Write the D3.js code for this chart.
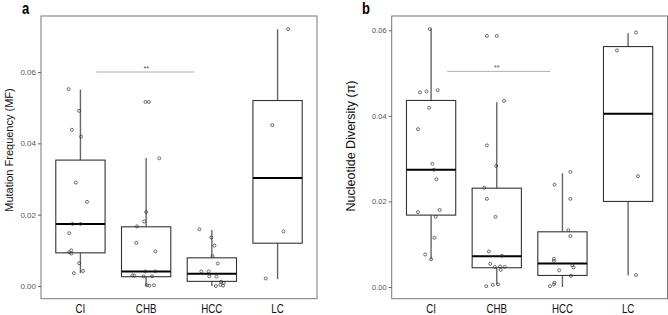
<!DOCTYPE html>
<html>
<head>
<meta charset="utf-8">
<script src="https://cdn.jsdelivr.net/npm/d3@7"></script>
<style>
  body { margin: 0; background: #fff; }
  svg { display: block; font-family: "Liberation Sans", Arial, sans-serif; }
</style>
</head>
<body>
<div id="chart"></div>
<script>
const groups = ["CI", "CHB", "HCC", "LC"];
const yTicks = [0, 0.02, 0.04, 0.06];

// ──── Panel a: mutation frequency ────
const mfLow  = [0.0036, 0.0000, 0.0000, 0.0019];
const mfQ1   = [0.0093, 0.0026, 0.0013, 0.0120];
const mfMed  = [0.0174, 0.0041, 0.0034, 0.0303];
const mfQ3   = [0.0353, 0.0166, 0.0079, 0.0520];
const mfHigh = [0.0551, 0.0359, 0.0157, 0.0720];

// [group, value, jitter (fraction of step)]
const mfPoints = [
  [0, 0.0552, -0.18], [0, 0.0491, -0.02], [0, 0.0438, -0.13], [0, 0.0419, 0.01],
  [0, 0.0290, -0.07], [0, 0.0236, 0.10], [0, 0.0174, -0.12], [0, 0.0174, 0.00],
  [0, 0.0148, -0.17], [0, 0.0100, -0.14], [0, 0.0095, -0.17], [0, 0.0091, -0.14],
  [0, 0.0064, -0.02], [0, 0.0042, 0.04], [0, 0.0036, -0.10],
  [1, 0.0516, -0.01], [1, 0.0516, 0.04], [1, 0.0358, 0.20], [1, 0.0207, 0.00],
  [1, 0.0181, -0.03], [1, 0.0167, -0.14], [1, 0.0121, -0.15], [1, 0.0097, 0.14],
  [1, 0.0041, -0.01], [1, 0.0041, 0.14], [1, 0.0030, -0.21], [1, 0.0029, -0.18],
  [1, 0.0027, -0.04], [1, 0.0027, 0.09], [1, 0.0002, 0.01], [1, 0.0001, 0.05],
  [1, 0.0002, 0.12],
  [2, 0.0159, -0.19], [2, 0.0136, -0.01], [2, 0.0113, 0.04], [2, 0.0084, 0.01],
  [2, 0.0063, 0.09], [2, 0.0041, -0.16], [2, 0.0041, -0.05], [2, 0.0027, -0.04],
  [2, 0.0026, 0.07], [2, 0.0012, 0.14], [2, 0.0008, 0.18], [2, 0.0003, 0.13],
  [2, 0.0001, 0.17], [2, 0.0000, 0.06],
  [3, 0.0720, 0.16], [3, 0.0451, -0.08], [3, 0.0153, 0.09], [3, 0.0021, -0.18]
];

// ──── Panel b: nucleotide diversity ────
const ndLow  = [0.0065, 0.0005, 0.0000, 0.0027];
const ndQ1   = [0.0168, 0.0045, 0.0027, 0.0200];
const ndMed  = [0.0274, 0.0072, 0.0055, 0.0405];
const ndQ3   = [0.0436, 0.0231, 0.0129, 0.0562];
const ndHigh = [0.0604, 0.0432, 0.0266, 0.0593];

const ndPoints = [
  [0, 0.0603, -0.02], [0, 0.0455, -0.17], [0, 0.0457, -0.07], [0, 0.0460, 0.10],
  [0, 0.0419, -0.03], [0, 0.0369, -0.20], [0, 0.0288, 0.02], [0, 0.0274, 0.04],
  [0, 0.0252, 0.08], [0, 0.0180, 0.13], [0, 0.0175, -0.20], [0, 0.0164, 0.07],
  [0, 0.0115, 0.05], [0, 0.0076, -0.09], [0, 0.0065, 0.00],
  [1, 0.0587, -0.15], [1, 0.0587, 0.00], [1, 0.0435, 0.11], [1, 0.0331, -0.15],
  [1, 0.0283, -0.01], [1, 0.0232, -0.19], [1, 0.0206, -0.15], [1, 0.0164, -0.02],
  [1, 0.0083, -0.12], [1, 0.0073, 0.08], [1, 0.0054, -0.10], [1, 0.0047, -0.03],
  [1, 0.0048, 0.05], [1, 0.0047, 0.12], [1, 0.0040, 0.06], [1, 0.0002, -0.16],
  [1, 0.0005, -0.06], [1, 0.0006, 0.02],
  [2, 0.0269, 0.12], [2, 0.0239, -0.12], [2, 0.0206, 0.12], [2, 0.0133, 0.09],
  [2, 0.0119, 0.12], [2, 0.0066, -0.13], [2, 0.0061, -0.13], [2, 0.0051, 0.15],
  [2, 0.0046, 0.17], [2, 0.0039, -0.05], [2, 0.0026, 0.13], [2, 0.0002, -0.19],
  [2, 0.0006, -0.13], [2, 0.0010, -0.12],
  [3, 0.0595, 0.12], [3, 0.0553, -0.17], [3, 0.0259, 0.15], [3, 0.0028, 0.12]
];

// significance brackets: from/to in group index units
const mfSig = { from: 0.24, to: 1.73, value: 0.060, star: 1.0, label: "**" };
const ndSig = { from: 0.245, to: 1.815, value: 0.0504, star: 1.0, label: "**" };

const W = 668, H = 315;
const svg = d3.select("#chart").append("svg")
  .attr("width", W).attr("height", H);

function drawPanel(p) {
  const g = svg.append("g");

  const x = d3.scalePoint().domain(groups)
    .range([p.left, p.right]).padding(0.6);
  const y = d3.scaleLinear().domain([0, 0.06]).range([p.y0, p.y60]);
  const step = x.step();
  const bw = step * 0.75;
  const xi = t => x(groups[0]) + t * step;

  // panel border
  g.append("rect")
    .attr("x", p.left).attr("y", p.top)
    .attr("width", p.right - p.left).attr("height", p.bottom - p.top)
    .attr("fill", "none").attr("stroke", "#777").attr("stroke-width", 1);

  // y axis ticks + labels
  const ax = g.append("g")
    .attr("transform", `translate(${p.left},0)`)
    .call(d3.axisLeft(y).tickValues(yTicks).tickFormat(d3.format(".2f")).tickSizeOuter(0).tickSize(3).tickPadding(2));
  ax.select(".domain").remove();
  ax.selectAll(".tick line").attr("stroke", "#666");
  ax.selectAll(".tick text")
    .attr("fill", "#555")
    .style("font-family", "Liberation Sans, Arial, sans-serif")
    .attr("font-size", p.tickSize);

  // category labels
  g.selectAll(".cat")
    .data(groups)
    .join("text")
    .attr("class", "cat")
    .attr("transform", d => `translate(${x(d)},312.5) scale(0.78,1)`)
    .attr("text-anchor", "middle")
    .attr("font-size", 12.5)
    .attr("fill", "#111")
    .text(d => d);

  // y title
  g.append("text")
    .attr("transform", `translate(${p.titleX},${p.titleY}) rotate(-90)`)
    .attr("text-anchor", "middle")
    .attr("font-size", p.titleSize)
    .attr("fill", "#111")
    .text(p.title);

  // panel letter
  g.append("text")
    .attr("transform", `translate(${p.letterX},14) scale(1,1.25)`)
    .attr("font-size", 13)
    .attr("font-weight", "bold")
    .attr("fill", "#000")
    .text(p.letter);

  // whiskers
  const boxes = groups.map((d, i) => ({
    key: d, low: p.low[i], q1: p.q1[i], med: p.med[i], q3: p.q3[i], high: p.high[i]
  }));

  g.selectAll(".whisk-hi")
    .data(boxes).join("line")
    .attr("x1", d => x(d.key)).attr("x2", d => x(d.key))
    .attr("y1", d => y(d.q3)).attr("y2", d => y(d.high))
    .attr("stroke", "#666").attr("stroke-width", 1.4);

  g.selectAll(".whisk-lo")
    .data(boxes).join("line")
    .attr("x1", d => x(d.key)).attr("x2", d => x(d.key))
    .attr("y1", d => y(d.q1)).attr("y2", d => y(d.low))
    .attr("stroke", "#666").attr("stroke-width", 1.4);

  g.selectAll(".box")
    .data(boxes).join("rect")
    .attr("x", d => x(d.key) - bw / 2)
    .attr("width", bw)
    .attr("y", d => y(d.q3))
    .attr("height", d => y(d.q1) - y(d.q3))
    .attr("fill", "#fff")
    .attr("stroke", "#333").attr("stroke-width", 1.1);

  g.selectAll(".median")
    .data(boxes).join("line")
    .attr("x1", d => x(d.key) - bw / 2).attr("x2", d => x(d.key) + bw / 2)
    .attr("y1", d => y(d.med)).attr("y2", d => y(d.med))
    .attr("stroke", "#000").attr("stroke-width", 2);

  // jittered points
  g.selectAll(".pt")
    .data(p.points).join("circle")
    .attr("cx", d => x(groups[d[0]]) + d[2] * step)
    .attr("cy", d => y(d[1]))
    .attr("r", 1.5)
    .attr("fill", "none")
    .attr("stroke", "#333").attr("stroke-width", 0.7);

  // significance
  g.append("line")
    .attr("x1", xi(p.sig.from)).attr("x2", xi(p.sig.to))
    .attr("y1", y(p.sig.value)).attr("y2", y(p.sig.value))
    .attr("stroke", "#999").attr("stroke-width", 0.8);
  g.append("text")
    .attr("x", xi(p.sig.star)).attr("y", y(p.sig.value) - 1.5)
    .attr("text-anchor", "middle")
    .attr("font-size", 7)
    .attr("fill", "#444")
    .text(p.sig.label);
}

drawPanel({
  left: 41, right: 317, top: 16, bottom: 298.7, y0: 286, y60: 72,
  low: mfLow, q1: mfQ1, med: mfMed, q3: mfQ3, high: mfHigh,
  points: mfPoints, sig: mfSig, tickSize: 8,
  title: "Mutation Frequency (MF)", titleX: 13, titleY: 150, titleSize: 11,
  letter: "a", letterX: 22
});

drawPanel({
  left: 391.7, right: 667.5, top: 16, bottom: 298.7, y0: 287, y60: 30.3,
  low: ndLow, q1: ndQ1, med: ndMed, q3: ndQ3, high: ndHigh,
  points: ndPoints, sig: ndSig, tickSize: 7.5,
  title: "Nucleotide Diversity (\u03c0)", titleX: 355, titleY: 146, titleSize: 12.5,
  letter: "b", letterX: 362
});
</script>
</body>
</html>
